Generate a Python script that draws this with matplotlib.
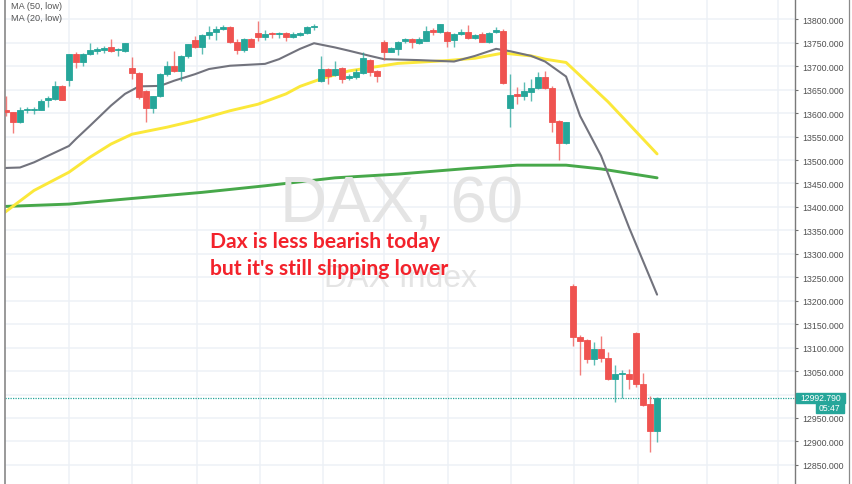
"""DAX 60-minute candles with moving averages, redrawn from a chart screenshot."""

import matplotlib

matplotlib.use("Agg")
import matplotlib.pyplot as plt
from matplotlib.patches import Rectangle
from matplotlib.lines import Line2D
from matplotlib.ticker import MultipleLocator, FormatStrFormatter
import numpy as np


# hourly candles, left to right
opens = [13606, 13602, 13580, 13606, 13606, 13607, 13628, 13630, 13658, 13671,
         13725, 13710, 13726, 13732, 13735, 13740, 13734, 13733, 13696, 13685,
         13648, 13610, 13637, 13683, 13701, 13689, 13722, 13756, 13740, 13767,
         13772, 13779, 13784, 13752, 13735, 13758, 13771, 13762, 13771, 13768,
         13771, 13763, 13767, 13771, 13783, 13669, 13694, 13681, 13696, 13674,
         13678, 13685, 13714, 13689, 13751, 13731, 13737, 13753, 13759, 13750,
         13754, 13777, 13772, 13774, 13756, 13769, 13772, 13760, 13769, 13752,
         13772, 13776, 13610, 13640, 13637, 13644, 13653, 13676, 13654, 13584,
         13536, 13232, 13122, 13116, 13076, 13097, 13078, 13033, 13043, 13043,
         13132, 13022, 12980, 12922]
highs = [13637, 13603, 13612, 13614, 13612, 13631, 13637, 13668, 13660, 13727,
         13730, 13729, 13749, 13740, 13744, 13759, 13738, 13750, 13719, 13688,
         13650, 13637, 13685, 13712, 13733, 13724, 13748, 13764, 13769, 13786,
         13785, 13788, 13786, 13758, 13760, 13760, 13797, 13777, 13774, 13774,
         13772, 13772, 13774, 13785, 13790, 13722, 13697, 13712, 13698, 13684,
         13694, 13730, 13716, 13691, 13755, 13742, 13754, 13761, 13761, 13762,
         13786, 13781, 13791, 13776, 13771, 13780, 13788, 13768, 13772, 13772,
         13783, 13779, 13683, 13656, 13666, 13673, 13688, 13690, 13657, 13586,
         13581, 13236, 13127, 13118, 13112, 13125, 13090, 13063, 13052, 13055,
         13134, 13046, 12997, 12995]
lows = [13594, 13557, 13579, 13600, 13598, 13606, 13613, 13629, 13627, 13658,
        13696, 13700, 13724, 13727, 13729, 13731, 13722, 13731, 13673, 13630,
        13580, 13600, 13635, 13680, 13687, 13669, 13718, 13738, 13726, 13758,
        13755, 13777, 13750, 13727, 13730, 13740, 13753, 13755, 13760, 13760,
        13754, 13760, 13765, 13768, 13778, 13667, 13662, 13679, 13665, 13671,
        13672, 13683, 13680, 13666, 13713, 13730, 13724, 13750, 13738, 13747,
        13753, 13767, 13770, 13742, 13741, 13766, 13758, 13757, 13751, 13750,
        13771, 13663, 13570, 13619, 13628, 13626, 13651, 13652, 13559, 13500,
        13534, 13104, 13042, 13067, 13062, 13070, 13030, 12983, 12993, 13012,
        13015, 12975, 12877, 12898]
closes = [13602, 13580, 13607, 13609, 13609, 13626, 13632, 13658, 13629, 13725,
          13710, 13727, 13735, 13736, 13738, 13733, 13736, 13749, 13685, 13634,
          13610, 13636, 13683, 13701, 13689, 13722, 13747, 13740, 13767, 13772,
          13779, 13784, 13752, 13735, 13758, 13742, 13762, 13769, 13768, 13771,
          13763, 13768, 13771, 13783, 13786, 13694, 13680, 13694, 13673, 13680,
          13687, 13717, 13687, 13680, 13731, 13738, 13752, 13759, 13751, 13757,
          13776, 13774, 13790, 13754, 13769, 13774, 13760, 13766, 13752, 13771,
          13778, 13664, 13639, 13637, 13648, 13653, 13676, 13654, 13580, 13536,
          13580, 13122, 13114, 13076, 13096, 13077, 13033, 13044, 13045, 13033,
          13022, 12977, 12923, 12992.79]
last_price = 12992.79
last_label = "12992.790"
countdown = "05:47"

# moving averages read at selected candle positions
ma20_bar = [-0.2, 2, 4, 6, 9, 10, 12, 15, 17, 19, 22, 24, 27, 29, 32, 37, 39,
            42, 44, 47, 49, 52, 54, 59, 64, 67, 70, 72, 75, 77, 80, 82, 85, 89, 93]
ma20_val = [13483, 13484, 13495, 13509, 13530, 13545, 13573, 13616, 13641, 13657,
            13658, 13669, 13683, 13694, 13701, 13705, 13715, 13737, 13749, 13740,
            13733, 13722, 13715, 13713, 13710, 13722, 13737, 13732, 13722, 13710,
            13678, 13594, 13509, 13356, 13213]
ma50_bar = [-0.2, 4, 9, 12, 15, 18, 23, 27, 32, 36, 40, 42, 45, 49, 56, 63, 67,
            71, 75, 77, 80, 86, 93]
ma50_val = [13388, 13435, 13474, 13506, 13534, 13555, 13570, 13584, 13605, 13619,
            13641, 13657, 13673, 13690, 13706, 13712, 13717, 13728, 13722, 13715,
            13708, 13624, 13513]
ma200_bar = [-0.2, 9, 18, 28, 37, 47, 56, 66, 73, 80, 85, 93]
ma200_val = [13401, 13406, 13418, 13431, 13445, 13462, 13470, 13482, 13489,
             13489, 13481, 13462]

legend_labels = ["MA (50, low)", "MA (20, low)"]
watermark = "DAX, 60"
watermark_sub = "DAX Index"
note_lines = ["Dax is less bearish today", "but it's still slipping lower"]

UP = "#26a69a"
DOWN = "#ef5350"
W, H = 852, 485

fig = plt.figure(figsize=(W / 100, H / 100), dpi=100)
fig.patch.set_facecolor("white")
ax = fig.add_axes([4.5 / W, 0, (795 - 4.5) / W, 1])

idx = np.arange(len(opens))
o = np.array(opens, float)
c = np.array(closes, float)
colors = [UP if cc >= oo else DOWN for oo, cc in zip(o, c)]

ax.set_xlim(-0.21, 112.7)
ax.set_ylim(12809.2, 13843.3)

# grid
for gx in [9, 18, 27.3, 36.3, 45.3, 54, 63.1, 72.1, 81.1, 90.3, 100.1, 110.3]:
    ax.axvline(gx, color="#edf1f6", lw=1.1, zorder=0)
ax.yaxis.set_major_locator(MultipleLocator(50))
ax.grid(axis="y", color="#edf1f6", lw=1.1, zorder=0)
ax.set_axisbelow(True)

# watermark
fig.text(401 / W, 1 - 223 / H, watermark, ha="center", va="baseline",
         fontsize=47, color="#e4e4e4", family="Liberation Sans", zorder=0.5)
fig.text(400 / W, 1 - 287 / H, watermark_sub, ha="center", va="baseline",
         fontsize=23, color="#e4e4e4", family="Liberation Sans", zorder=0.5)

# moving averages
ax.plot(ma200_bar, ma200_val, color="#47a84a", lw=2.1, zorder=2, solid_capstyle="round")
ax.plot(ma50_bar, ma50_val, color="#fbe83a", lw=2.1, zorder=2, solid_capstyle="round")
ax.plot(ma20_bar, ma20_val, color="#72737d", lw=1.5, zorder=2, solid_capstyle="round")

# candles
ax.vlines(idx, lows, highs, colors=colors, lw=1.0, alpha=0.75, zorder=3)
ax.bar(idx, c - o, bottom=o, width=0.76, color=colors, edgecolor=colors,
       lw=0.6, zorder=4)

# last price line
ax.axhline(last_price, color=UP, lw=0.9, ls=(0, (1, 1)), zorder=1)

# price axis on the right
ax.yaxis.tick_right()
ax.yaxis.set_major_formatter(FormatStrFormatter("%.3f"))
ax.tick_params(axis="y", direction="out", length=2.5, width=0.8, color="#6e6e6e",
               pad=2.5, labelsize=6.3, labelcolor="#505050")
for lab in ax.get_yticklabels():
    lab.set_family("Liberation Sans")
ax.set_xticks([])
for side in ["top", "bottom"]:
    ax.spines[side].set_visible(False)
ax.spines["left"].set_color("#888888")
ax.spines["left"].set_linewidth(1.2)
ax.spines["right"].set_color("#7a7a7a")
ax.spines["right"].set_linewidth(1.0)

# right frame edge
fig.add_artist(Line2D([848.5 / W, 848.5 / W], [0, 1], transform=fig.transFigure,
                      color="#8a8a8a", lw=0.9))

# price tags
fig.add_artist(Rectangle((796 / W, 1 - 403.5 / H), 49 / W, 9.5 / H,
                         transform=fig.transFigure, color=UP, zorder=5))
fig.text(820.5 / W, 1 - 398.9 / H, last_label, ha="center", va="center", fontsize=6.2,
         color="white", family="Liberation Sans", zorder=6)
fig.add_artist(Rectangle((816 / W, 1 - 414 / H), 27.5 / W, 10 / H,
                         transform=fig.transFigure, color=UP, zorder=5))
fig.text(829.7 / W, 1 - 409 / H, countdown, ha="center", va="center", fontsize=6.2,
         color="white", family="Liberation Sans", zorder=6)

# legend texts
for k, lab in enumerate(legend_labels):
    fig.text(11 / W, 1 - (6.5 + 12 * k) / H, lab, ha="left", va="center", fontsize=6.6,
             color="#555555", family="Liberation Sans")

# annotation, one text per line
for k, line in enumerate(note_lines):
    fig.text(210 / W, 1 - (248 + 27 * k) / H, line, ha="left", va="baseline",
             fontsize=15.2, color="#f3222b", family="Lato", weight="bold")

fig.savefig("out.png", dpi=100)
